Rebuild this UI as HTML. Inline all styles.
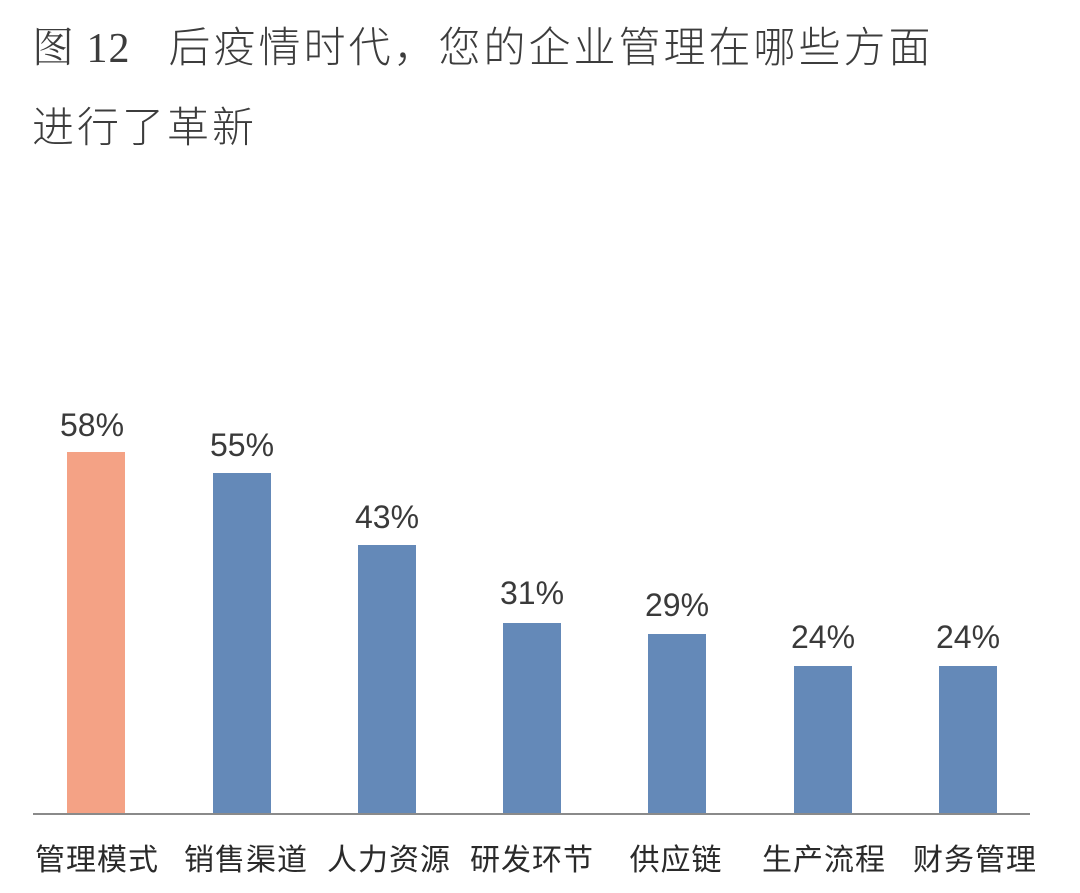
<!DOCTYPE html>
<html><head><meta charset="utf-8"><style>
body{margin:0;width:1080px;height:893px;background:#fff;overflow:hidden;position:relative;font-family:"Liberation Sans","Noto Sans CJK SC",sans-serif;color:#3a3a3a}
.t{position:absolute;left:32px;font-size:42px;letter-spacing:3px;font-weight:300;white-space:nowrap;color:#3c3c3c}
.b{position:absolute;width:58px;background:#6489b8}
.v{position:absolute;width:140px;text-align:center;font-size:32px;color:#3a3a3a}
.l{position:absolute;width:160px;text-align:center;font-size:30px;top:835px;color:#2a2a2a;letter-spacing:1px}
</style></head><body>
<div class="t" style="top:14px"><span style="font-family:'Liberation Serif','Noto Serif CJK SC',serif;letter-spacing:1px">图 12</span><span style="display:inline-block;width:38px"></span>后疫情时代，您的企业管理在哪些方面</div>
<div class="t" style="top:94px">进行了革新</div>
<div style="position:absolute;left:33px;top:813px;width:997px;height:2px;background:#8a8a8a"></div>
<div class="b" style="left:67px;top:452px;height:361px;background:#f4a285"></div>
<div class="b" style="left:213px;top:473px;height:340px"></div>
<div class="b" style="left:358px;top:545px;height:268px"></div>
<div class="b" style="left:503px;top:623px;height:190px"></div>
<div class="b" style="left:648px;top:634px;height:179px"></div>
<div class="b" style="left:794px;top:666px;height:147px"></div>
<div class="b" style="left:939px;top:666px;height:147px"></div>
<div class="v" style="left:22px;top:407px">58%</div>
<div class="v" style="left:172px;top:427px">55%</div>
<div class="v" style="left:317px;top:499px">43%</div>
<div class="v" style="left:462px;top:575px">31%</div>
<div class="v" style="left:607px;top:587px">29%</div>
<div class="v" style="left:753px;top:619px">24%</div>
<div class="v" style="left:898px;top:619px">24%</div>
<div class="l" style="left:17px">管理模式</div>
<div class="l" style="left:166px">销售渠道</div>
<div class="l" style="left:309px">人力资源</div>
<div class="l" style="left:452px">研发环节</div>
<div class="l" style="left:596px">供应链</div>
<div class="l" style="left:744px">生产流程</div>
<div class="l" style="left:895px">财务管理</div>
</body></html>
